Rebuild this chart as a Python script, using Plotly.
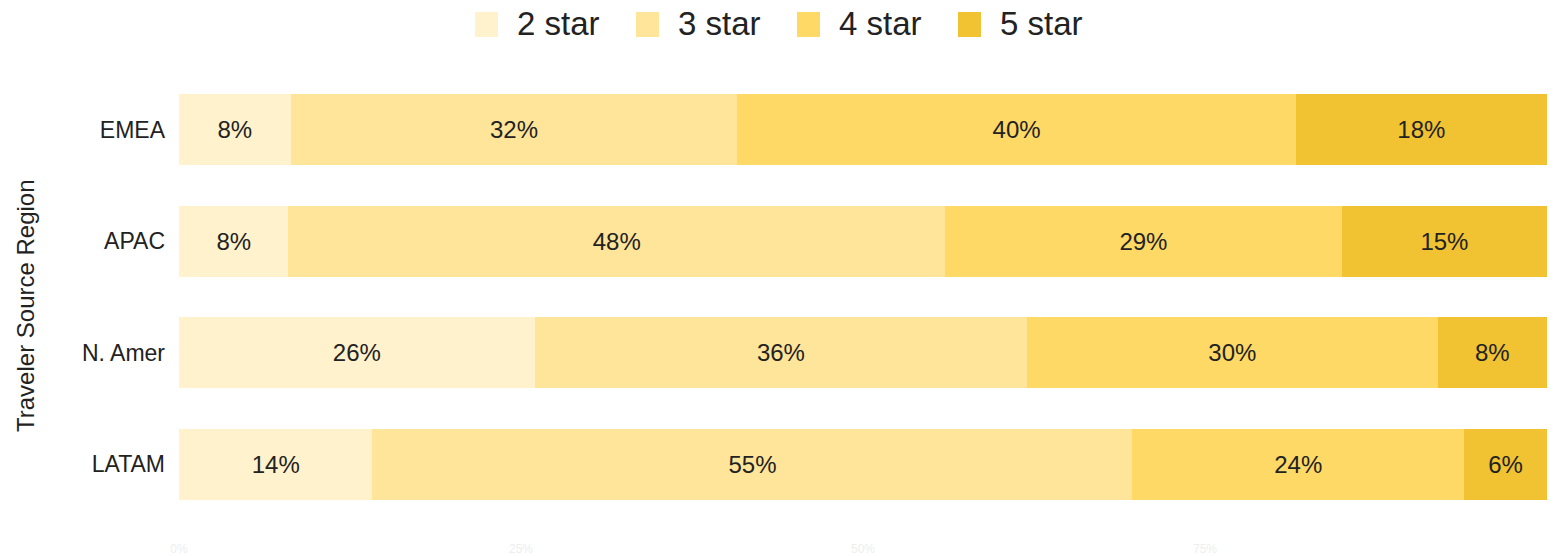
import plotly.graph_objects as go

regions = ["EMEA", "APAC", "N. Amer", "LATAM"]
series_names = ["2 star", "3 star", "4 star", "5 star"]
values = {
    "2 star": [8, 8, 26, 14],
    "3 star": [32, 48, 36, 55],
    "4 star": [40, 29, 30, 24],
    "5 star": [18, 15, 8, 6],
}
colors = ["#FFF2CC", "#FFE599", "#FFD966", "#F1C232"]
x_ticks = [0, 25, 50, 75, 100]
x_tick_labels = ["0%", "25%", "50%", "75%", "100%"]

FONT = "Liberation Sans, Arial, sans-serif"
W, H = 1562, 556
ml, mr, mt, mb = 179, 15, 74, 36
PW, PH = W - ml - mr, H - mt - mb

fig = go.Figure()
for name, col in zip(series_names, colors):
    v = values[name]
    fig.add_trace(go.Bar(
        y=regions, x=v, name=name, orientation="h",
        marker=dict(color=col, line=dict(width=0)),
        text=[f"{a}%" for a in v], textposition="inside",
        insidetextanchor="middle",
        textfont=dict(family=FONT, size=24, color="#222222"),
        showlegend=False,
    ))

# manual legend (large swatches)
swatch_x = [475, 636, 797, 958]
for name, col, sx in zip(series_names, colors, swatch_x):
    fig.add_shape(type="rect", xref="paper", yref="paper",
                  x0=(sx - ml) / PW, x1=(sx + 23 - ml) / PW,
                  y0=(H - mb - 37) / PH, y1=(H - mb - 12) / PH,
                  fillcolor=col, line=dict(width=0), layer="above")
    fig.add_annotation(xref="paper", yref="paper", x=(sx + 40 - ml) / PW,
                       y=(H - mb - 24) / PH, text=name, showarrow=False,
                       xanchor="left", yanchor="middle",
                       font=dict(family=FONT, size=33, color="#222222"))

# y-axis title
fig.add_annotation(xref="paper", yref="paper", x=(25 - ml) / PW, y=(H - mb - 306) / PH,
                   text="Traveler Source Region", textangle=-90, showarrow=False,
                   xanchor="center", yanchor="middle",
                   font=dict(family=FONT, size=24, color="#222222"))

fig.update_layout(
    width=W, height=H,
    barmode="stack", barnorm="percent", bargap=0.36,
    margin=dict(l=ml, r=mr, t=mt, b=mb, autoexpand=False),
    plot_bgcolor="white", paper_bgcolor="white",
    font=dict(family=FONT, color="#222222"),
    showlegend=False,
    uniformtext=dict(mode="show", minsize=24),
)
fig.update_yaxes(autorange="reversed", showgrid=False, zeroline=False, showline=False,
                 ticks="", tickfont=dict(family=FONT, size=23, color="#222222"),
                 ticklabelstandoff=13, automargin=False)
fig.update_xaxes(range=[0, 100], tickvals=x_ticks, ticktext=x_tick_labels, showgrid=False,
                 zeroline=False, showline=False, ticks="", automargin=False,
                 ticklabelstandoff=20,
                 tickfont=dict(family=FONT, size=12, color="#eeeeee"))

fig.write_html("out.html")
